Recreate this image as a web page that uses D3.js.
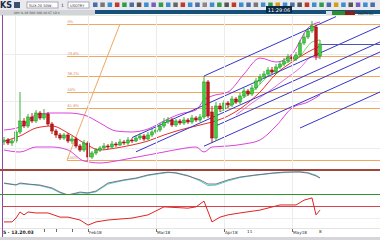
<!DOCTYPE html>
<html lang="en">
<head>
<meta charset="utf-8">
<title>Chart</title>
<script src="https://cdn.jsdelivr.net/npm/d3@7"></script>
<style>
  body { margin: 0; background: #fff; }
  svg { display: block; font-family: "DejaVu Sans", sans-serif; }
</style>
</head>
<body>
<script>
var w = 380, h = 240;

// candles, one per bar (price units)
var open  = [124,126,123,125,134,145,140,149,145,153, 148,152,142,135,131,128,131,125,127,120,
             116,123,109,113,116,118,120,119,122,121, 124,123,126,125,128,130,127,131,134,136,
             140,144,146,141,145,143,146,144,148,146, 149,184,154,128,160,157,163,161,167,164,
             170,175,172,178,185,189,192,196,194,199, 202,205,209,207,211,223,229,235,239,210];
var high  = [129,128,127,136,174,148,152,153,156,155, 157,154,144,137,133,133,133,130,129,122,
             126,125,115,118,120,123,122,125,124,127, 126,129,128,131,133,132,134,137,139,143,
             148,149,148,147,147,149,148,151,150,152, 190,186,160,164,163,166,165,170,169,173,
             178,177,181,188,192,195,199,199,202,205, 208,212,211,214,226,233,238,245,241,226];
var low   = [121,121,120,123,132,138,138,143,143,146, 146,140,132,128,126,126,123,122,118,114,
             114,105,107,111,114,116,117,117,119,120, 121,121,123,124,126,125,126,129,132,134,
             138,142,139,139,141,141,142,142,144,144, 147,148,123,125,154,155,158,159,162,162,
             168,170,170,176,182,187,190,192,192,197, 200,203,205,205,209,221,227,233,206,207];
var close = [126,123,125,134,145,140,149,145,153,148, 152,142,135,131,128,131,125,127,120,116,
             123,109,113,116,118,120,119,122,121,124, 123,126,125,128,130,127,131,134,136,140,
             144,146,141,145,143,146,144,148,146,149, 184,150,128,160,157,163,161,167,164,170,
             175,172,178,185,189,192,196,194,199,202, 205,209,207,211,223,229,235,240,210,222];

// bollinger style bands, read at these bars
var bandBars  = [0,4,8,12,16,20,24,28,32,36,40,44,48,50,52,56,60,64,68,72,76,79];
var bandUpper = [136,139,151,153,153,151,143,135,134,137,145,152,156,166,170,174,192,208,204,212,238,244];
var bandMid   = [125,130,138,140,133,123,116,118,121,125,131,136,140,142,144,150,160,174,192,204,214,220];
var bandLower = [116,114,119,119,116,105,103,105,108,111,114,117,119,114,119,120,122,126,140,158,164,171];
var innerBars = [58,62,66,70,74,77,79];
var innerLow  = [151,163,174,186,198,209,208];
var fastBars  = [54,58,62,66,70,74,77,79];
var fastMa    = [154,164,174,190,202,210,224,226];

// fibonacci retracement
var fibLevels = [242,210,190,174,158,106];
var fibLabels = ["0%","23.6%","38.2%","50%","61.8%","100%"];
var fibTrend  = [15.75,106,29,242];

// channel lines [bar1, price1, bar2, price2]
var channels = [
  [50,190,83,249.4],
  [32,128.4,94,240],
  [33,114.2,94,224],
  [53,140.2,94,214],
  [50,119.8,94,199],
  [74,138,94,174]
];

// oscillator panel
var oscBars = [0,3,4,6,9,12,14,16,19,21,23,26,30,33,36,39,41,43,46,49,51,53,56,59,63,67,70,72,74,76,78,79];
var oscK    = [50,42,50,46,42,31,15,4,15,12,19,50,62,69,81,88,92,88,77,62,46,46,62,73,81,88,92,92,92,88,77,69];
var oscD    = [48,44,47,45,40,28,12,2,12,10,16,46,60,67,79,86,90,90,79,58,40,42,58,71,80,87,90,93,94,90,80,70];

// rsi panel
var rsiBars = [0,2,3,4,5,6,8,11,14,16,19,21,23,26,32,36,40,46,48,50,52,54,56,59,64,69,73,75,77,78,79];
var rsiVals = [19,19,31,50,41,50,47,47,34,34,25,9,19,25,31,41,66,62,66,84,19,34,41,47,56,72,72,87,94,41,56];

// time axis
var monthBars   = [21,38,55,72];
var monthLabels = ["Feb18","Mar18","Apr18","May18"];
var dayBars     = [61,79];
var dayLabels   = ["11","8"];
var minorBars   = [10,13,17];
var gridPrices  = [212,165,118];

var x = d3.scaleLinear().domain([0, 79]).range([4, 320]);
var y = d3.scaleLinear().domain([100, 250]).range([166, 16]);
var yOsc = d3.scaleLinear().domain([0, 100]).range([196, 170]);
var yRsi = d3.scaleLinear().domain([0, 100]).range([228, 196]);

var svg = d3.select("body").append("svg").attr("width", w).attr("height", h);

var defs = svg.append("defs");
defs.append("clipPath").attr("id", "cMain").append("rect").attr("x", 3).attr("y", 16).attr("width", 377).attr("height", 153);
defs.append("clipPath").attr("id", "cOsc").append("rect").attr("x", 3).attr("y", 171).attr("width", 377).attr("height", 23);
defs.append("clipPath").attr("id", "cRsi").append("rect").attr("x", 3).attr("y", 195).attr("width", 377).attr("height", 33);

//---------- toolbar ----------
svg.append("rect").attr("width", w).attr("height", 10).attr("fill", "#e9e9ee");
svg.append("text").attr("x", 0).attr("y", 8).attr("font-size", 8).attr("font-weight", "bold")
  .attr("fill", "#1c2a44").text("KS");
svg.append("rect").attr("x", 14).attr("y", 2).attr("width", 6).attr("height", 6).attr("fill", "#3d4f70");
svg.append("rect").attr("x", 27).attr("y", 2).attr("width", 31).attr("height", 6).attr("fill", "#fff").attr("stroke", "#aab");
svg.append("text").attr("x", 29).attr("y", 6.5).attr("font-size", 3.6).attr("fill", "#333").text("SUX-20 50W-");
svg.append("text").attr("x", 61).attr("y", 7).attr("font-size", 4.5).attr("fill", "#333").text("1");
svg.append("rect").attr("x", 68).attr("y", 2).attr("width", 21).attr("height", 6).attr("fill", "#fff").attr("stroke", "#aab");
svg.append("text").attr("x", 70).attr("y", 6.5).attr("font-size", 3.6).attr("fill", "#333").text("USDTRY");

var iconColors = ["#4a6fa5","#777","#3a8fd0","#c0392b","#2e9e4a","#4a6fa5","#555","#3a8fd0","#7a5cc0","#2e9e4a",
                  "#3a8fd0","#666","#c0392b","#3a8fd0","#4a6fa5","#888","#3a8fd0","#2e9e4a","#555","#c0392b",
                  "#3a8fd0","#4a6fa5","#777","#3a8fd0","#2e9e4a","#d4a017","#3a8fd0","#4a6fa5","#555","#c0392b",
                  "#3a8fd0","#2e9e4a","#4a6fa5","#d4a017","#3a8fd0","#555","#7a5cc0","#3a8fd0","#4a6fa5"];
svg.selectAll("rect.icon").data(iconColors).enter().append("rect")
  .attr("class", "icon")
  .attr("x", function (d, i) { return 93 + i * 7.3; })
  .attr("y", 2.5).attr("width", 4.5).attr("height", 4.5)
  .attr("fill", function (d) { return d; });

// second row
svg.append("rect").attr("x", 0).attr("y", 10).attr("width", 95).attr("height", 5).attr("fill", "#d4d4d8");
svg.append("text").attr("x", 14).attr("y", 13.5).attr("font-size", 3).attr("fill", "#444")
  .text("OHI      %     1B   50D 30D 20 ST 1D ▾");
svg.append("rect").attr("x", 95).attr("y", 10).attr("width", 285).attr("height", 4).attr("fill", "#16517c");
svg.append("rect").attr("x", 266).attr("y", 6).attr("width", 26).attr("height", 7).attr("fill", "#0b2746");
svg.append("text").attr("x", 279).attr("y", 11.5).attr("text-anchor", "middle").attr("font-size", 5)
  .attr("fill", "#fff").text("11:29:06");
svg.append("rect").attr("x", 326).attr("y", 11).attr("width", 6).attr("height", 4).attr("fill", "#dde");
svg.append("rect").attr("x", 332).attr("y", 11).attr("width", 13).attr("height", 4).attr("fill", "#2f8f2f");
svg.append("rect").attr("x", 345).attr("y", 11).attr("width", 10).attr("height", 4).attr("fill", "#8e1c1c");
svg.append("text").attr("x", 358).attr("y", 14.5).attr("font-size", 3.6).attr("fill", "#222").text("MATR-AL");

//---------- main price panel ----------
svg.append("rect").attr("x", 0).attr("y", 15).attr("width", w).attr("height", 213).attr("fill", "#fff");
svg.append("line").attr("x1", 0).attr("x2", w).attr("y1", 15.5).attr("y2", 15.5).attr("stroke", "#dfeee4");

var main = svg.append("g").attr("clip-path", "url(#cMain)");

// grid
main.selectAll("line.hg").data(gridPrices).enter().append("line")
  .attr("x1", 3).attr("x2", w)
  .attr("y1", function (d) { return Math.round(y(d)) + 0.5; })
  .attr("y2", function (d) { return Math.round(y(d)) + 0.5; })
  .attr("stroke", "#ececec");
svg.selectAll("line.vg").data([2.75].concat(monthBars)).enter().append("line")
  .attr("x1", function (d) { return Math.round(x(d)) + 0.5; })
  .attr("x2", function (d) { return Math.round(x(d)) + 0.5; })
  .attr("y1", 16).attr("y2", 228)
  .attr("stroke", "#ececec");

// fibonacci
var fibX0 = x(fibTrend[0]);
main.selectAll("line.fib").data(fibLevels).enter().append("line")
  .attr("x1", fibX0).attr("x2", w)
  .attr("y1", function (d) { return Math.round(y(d)) + 0.5; })
  .attr("y2", function (d) { return Math.round(y(d)) + 0.5; })
  .attr("stroke", "#efa860").attr("stroke-width", 1);
main.selectAll("text.fib").data(fibLevels).enter().append("text")
  .attr("x", fibX0 + 0.5)
  .attr("y", function (d) { return y(d) - 1.5; })
  .attr("font-size", 3.6).attr("fill", "#d8884a")
  .text(function (d, i) { return fibLabels[i]; });
main.append("line")
  .attr("x1", x(fibTrend[0])).attr("y1", y(fibTrend[1]))
  .attr("x2", x(fibTrend[2])).attr("y2", y(fibTrend[3]))
  .attr("stroke", "#efa860");

// bands
var bandLine = function (bars) {
  return d3.line()
    .x(function (d, i) { return x(bars[i]); })
    .y(function (d) { return y(d); })
    .curve(d3.curveMonotoneX);
};
[bandUpper, bandLower].forEach(function (s) {
  main.append("path").attr("d", bandLine(bandBars)(s))
    .attr("fill", "none").attr("stroke", "#dd44dd").attr("stroke-width", 1);
});
main.append("path").attr("d", bandLine(innerBars)(innerLow))
  .attr("fill", "none").attr("stroke", "#e060e0").attr("stroke-width", 0.9);
main.append("path").attr("d", bandLine(bandBars)(bandMid))
  .attr("fill", "none").attr("stroke", "#e23030").attr("stroke-width", 1);
main.append("path").attr("d", bandLine(fastBars)(fastMa))
  .attr("fill", "none").attr("stroke", "#44cc44").attr("stroke-width", 0.8);

// channels
main.selectAll("line.ch").data(channels).enter().append("line")
  .attr("x1", function (d) { return x(d[0]); })
  .attr("y1", function (d) { return y(d[1]); })
  .attr("x2", function (d) { return x(d[2]); })
  .attr("y2", function (d) { return y(d[3]); })
  .attr("stroke", "#3535c8").attr("stroke-width", 1);

// last price line
var last = close.length - 1;
main.append("line")
  .attr("x1", x(last)).attr("x2", w)
  .attr("y1", Math.round(y(close[last])) + 0.5).attr("y2", Math.round(y(close[last])) + 0.5)
  .attr("stroke", "#4a58a8");

// candles
var bars = d3.range(close.length);
var up = function (i) { return close[i] >= open[i]; };
var candles = main.selectAll("g.candle").data(bars).enter().append("g").attr("class", "candle");
candles.append("line")
  .attr("x1", function (i) { return x(i); })
  .attr("x2", function (i) { return x(i); })
  .attr("y1", function (i) { return y(high[i]); })
  .attr("y2", function (i) { return y(low[i]); })
  .attr("stroke", function (i) { return up(i) ? "#25a825" : "#b80f0f"; })
  .attr("stroke-width", 0.9);
candles.append("rect")
  .attr("x", function (i) { return x(i) - 1.3; })
  .attr("width", 2.6)
  .attr("y", function (i) { return y(Math.max(open[i], close[i])); })
  .attr("height", function (i) { return Math.max(1, Math.abs(y(open[i]) - y(close[i]))); })
  .attr("fill", function (i) { return up(i) ? "#3ad13a" : "#c81414"; })
  .attr("stroke", function (i) { return up(i) ? "#1e8a1e" : "#8a0a0a"; })
  .attr("stroke-width", 0.5);

// separator
svg.append("line").attr("x1", 0).attr("x2", w).attr("y1", 170).attr("y2", 170)
  .attr("stroke", "#a2453a").attr("stroke-width", 1.8);

//---------- oscillator ----------
var osc = svg.append("g").attr("clip-path", "url(#cOsc)");
var oscLine = d3.line()
  .x(function (d, i) { return x(oscBars[i]); })
  .y(function (d) { return yOsc(d); });
osc.append("path").attr("d", oscLine(oscD)).attr("fill", "none").attr("stroke", "#4fd6c6").attr("stroke-width", 1);
osc.append("path").attr("d", oscLine(oscK)).attr("fill", "none").attr("stroke", "#75607a").attr("stroke-width", 0.9);
svg.append("line").attr("x1", 0).attr("x2", w).attr("y1", 194.5).attr("y2", 194.5)
  .attr("stroke", "#2e962e").attr("stroke-width", 1);

//---------- rsi ----------
var rsi = svg.append("g").attr("clip-path", "url(#cRsi)");
rsi.append("line").attr("x1", 3).attr("x2", w)
  .attr("y1", Math.round(yRsi(70)) + 0.5).attr("y2", Math.round(yRsi(70)) + 0.5)
  .attr("stroke", "#d2454f").attr("stroke-width", 1);
rsi.append("line").attr("x1", 3).attr("x2", w)
  .attr("y1", Math.round(yRsi(30)) + 0.5).attr("y2", Math.round(yRsi(30)) + 0.5)
  .attr("stroke", "#eeeeee");
var rsiLine = d3.line()
  .x(function (d, i) { return x(rsiBars[i]); })
  .y(function (d) { return yRsi(d); });
rsi.append("path").attr("d", rsiLine(rsiVals)).attr("fill", "none").attr("stroke", "#e02424").attr("stroke-width", 1);
svg.append("line").attr("x1", 0).attr("x2", w).attr("y1", 228.5).attr("y2", 228.5).attr("stroke", "#e4e4e4");

//---------- time axis ----------
svg.selectAll("text.month").data(monthBars).enter().append("text")
  .attr("x", function (d) { return x(d) + 1; })
  .attr("y", 233.5)
  .attr("font-size", 4.2).attr("fill", "#333")
  .text(function (d, i) { return monthLabels[i]; });
svg.selectAll("text.day").data(dayBars).enter().append("text")
  .attr("x", function (d) { return x(d) - 1; })
  .attr("y", 233)
  .attr("font-size", 4.2).attr("fill", "#333")
  .text(function (d, i) { return dayLabels[i]; });
svg.selectAll("line.mt").data(minorBars.concat(monthBars)).enter().append("line")
  .attr("x1", function (d) { return Math.round(x(d)) + 0.5; })
  .attr("x2", function (d) { return Math.round(x(d)) + 0.5; })
  .attr("y1", 229).attr("y2", 232)
  .attr("stroke", "#444").attr("stroke-width", 0.8);
svg.append("text").attr("x", 3).attr("y", 234).attr("font-size", 4.6).attr("font-weight", "bold")
  .attr("fill", "#222").text("5 · 13.20.03");
svg.append("rect").attr("x", 0).attr("y", 237).attr("width", w).attr("height", 3).attr("fill", "#d6d6da");

// left border
svg.append("line").attr("x1", 2.5).attr("x2", 2.5).attr("y1", 15).attr("y2", 237)
  .attr("stroke", "#8e4a9e").attr("stroke-width", 1);
</script>
</body>
</html>
